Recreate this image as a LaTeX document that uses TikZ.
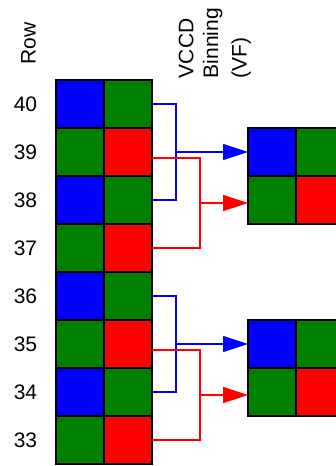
\documentclass[tikz,border=0pt]{standalone}
\usepackage{fontspec}
\setmainfont{Liberation Sans}
\usetikzlibrary{arrows.meta}
\definecolor{pxblue}{RGB}{0,0,255}
\definecolor{pxgreen}{RGB}{0,128,0}
\definecolor{pxred}{RGB}{255,0,0}

\begin{document}
\begin{tikzpicture}[x=1pt,y=-1pt,
  cell/.style={draw=black,line width=1.6pt,minimum size=48pt,inner sep=0pt,outer sep=0pt},
  lbl/.style={font=\fontsize{21}{25}\selectfont,inner sep=0pt},
  wire/.style={line width=1.5pt},
  tip/.style={-{Triangle[length=25pt,width=16pt]}}
]
\useasboundingbox (0,0) rectangle (336,466);
\begin{scope}
\clip (0,0) rectangle (336,466);

% column headings
\node[lbl,rotate=90,anchor=base west] (rowhdr) at (35.5,65) {Row};
\node[lbl,rotate=90,anchor=base west] (hdrA) at (193.3,78.3) {VCCD};
\node[lbl,rotate=90,anchor=base west] (hdrB) at (218,78.3) {Binning};
\node[lbl,rotate=90,anchor=base west] (hdrC) at (246.5,78.3) {(VF)};

% sensor rows 40 ... 33 with their Bayer pixels
\foreach \r/\a/\b [count=\i from 0] in
  {40/pxblue/pxgreen, 39/pxgreen/pxred, 38/pxblue/pxgreen, 37/pxgreen/pxred,
   36/pxblue/pxgreen, 35/pxgreen/pxred, 34/pxblue/pxgreen, 33/pxgreen/pxred}{
  \node[cell,fill=\a] (L\r a) at (80,104+48*\i) {};
  \node[cell,fill=\b] (L\r b) at (128,104+48*\i) {};
  \node[lbl] (n\r) at (25.5,104.5+48*\i) {\r};
}

% binned output pixels
\foreach \k/\y in {1/152, 2/344}{
  \node[cell,fill=pxblue]  (R\k a) at (272,\y) {};
  \node[cell,fill=pxgreen] (R\k b) at (320,\y) {};
  \node[cell,fill=pxgreen] (R\k c) at (272,\y+48) {};
  \node[cell,fill=pxred]   (R\k d) at (320,\y+48) {};
}

% first binning group: rows 40/38 (blue) and 39/37 (red)
\coordinate (jb1) at (176,152);
\coordinate (jr1) at (200,203);
\draw[wire,pxblue] (L40b.east) -| (jb1) |- (L38b.east);
\draw[wire,pxblue,tip] (jb1) -- (R1a.west);
\draw[wire,pxred] ([yshift=-6pt]L39b.east) -| (jr1) |- (L37b.east);
\draw[wire,pxred,tip] (jr1) -- ([yshift=-3pt]R1c.west);

% second binning group: rows 36/34 (blue) and 35/33 (red)
\coordinate (jb2) at (176,344);
\coordinate (jr2) at (200,395);
\draw[wire,pxblue] (L36b.east) -| (jb2) |- (L34b.east);
\draw[wire,pxblue,tip] (jb2) -- (R2a.west);
\draw[wire,pxred] ([yshift=-6pt]L35b.east) -| (jr2) |- (L33b.east);
\draw[wire,pxred,tip] (jr2) -- ([yshift=-3pt]R2c.west);
\end{scope}
\end{tikzpicture}
\end{document}
